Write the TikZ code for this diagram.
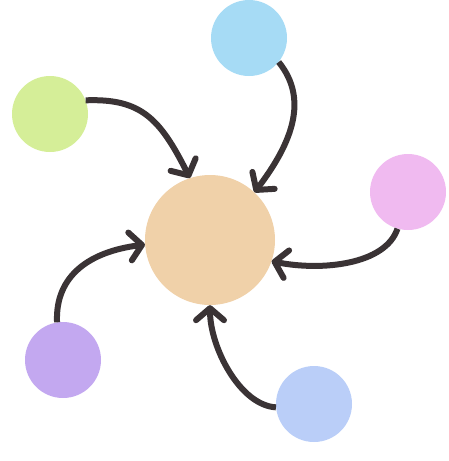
\documentclass[tikz,border=0pt]{standalone}
\usetikzlibrary{arrows.meta}
\definecolor{cmain}{HTML}{F0D1A9}
\definecolor{cgreen}{HTML}{D5EE98}
\definecolor{cblue}{HTML}{A6DBF5}
\definecolor{cpink}{HTML}{F0BAF0}
\definecolor{cpurple}{HTML}{C3A8F0}
\definecolor{cperi}{HTML}{BACEF8}
\definecolor{cline}{HTML}{3A3335}
\tikzset{
  blob/.style={circle, inner sep=0pt, minimum size=#1},
  link/.style={draw=cline, line width=6pt, line cap=butt,
    -{Straight Barb[round,length=12pt,width=28pt]}}
}
\begin{document}
\begin{tikzpicture}[x=1pt,y=-1pt]
\useasboundingbox (0,0) rectangle (448,461);
\node[blob=130pt, fill=cmain] (c) at (210,240) {};
\node[blob=76pt, fill=cgreen] (g) at (50,114) {};
\node[blob=76pt, fill=cblue] (b) at (249,38) {};
\node[blob=76pt, fill=cpink] (p) at (408,192) {};
\node[blob=76pt, fill=cpurple] (u) at (63,360) {};
\node[blob=76pt, fill=cperi] (q) at (314,404) {};
\draw[link] (g.21) .. controls +(55,-2) and +(-30,-60) .. (c.108);
\draw[link] (b.-39) .. controls +(30,37) and +(38,-50) .. (c.47);
\draw[link] (p.-106) .. controls +(-12,36) and +(50,10) .. (c.-19);
\draw[link] (q.185) .. controls +(-36,-2) and +(0,42) .. (c.-90);
\draw[link] (u.99) .. controls +(-2,-47) and +(-55,7) .. (c.184);
\end{tikzpicture}
\end{document}
